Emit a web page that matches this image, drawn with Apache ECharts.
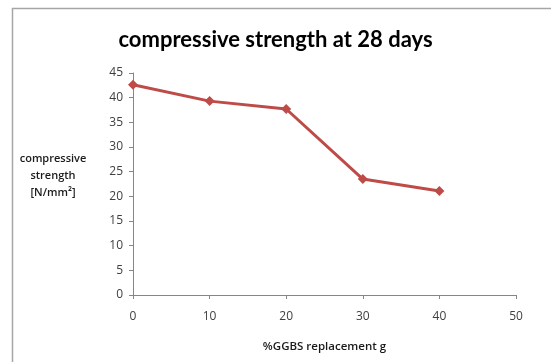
<!DOCTYPE html>
<html>
<head>
<meta charset="utf-8">
<script src="https://cdn.jsdelivr.net/npm/echarts@6/dist/echarts.min.js"></script>
<style>
html,body{margin:0;padding:0;background:#fff;}
#c{width:551px;height:362px;}
</style>
</head>
<body>
<div id="c"></div>
<script>
var xValues = [0, 10, 20, 30, 40];
var strength = [42.6, 39.3, 37.7, 23.5, 21.1];
var titleText = 'compressive strength at 28 days';
var yAxisTitle = 'compressive\nstrength\n[N/mm\u00b2]';
var xAxisTitle = '%GGBS replacement g';

var chart = echarts.init(document.getElementById('c'), null, {renderer: 'canvas'});
var data = xValues.map(function (x, i) { return [x, strength[i]]; });
chart.setOption({
  animation: false,
  backgroundColor: '#ffffff',
  title: {
    text: titleText,
    left: 'center',
    top: 24,
    textStyle: {fontFamily: 'Lato', fontWeight: 'bold', fontSize: 22, color: '#000'}
  },
  graphic: [
    {type: 'rect', shape: {x: 12.5, y: 8.5, width: 560, height: 380},
     style: {fill: 'none', stroke: '#a6a6a6', lineWidth: 1.5}, z: -1},
    {type: 'text', x: 53, y: 150,
     style: {text: yAxisTitle, font: '600 11px "Open Sans"', fill: '#1a1a1a', align: 'center', verticalAlign: 'top', lineHeight: 17}}
  ],
  grid: {left: 133, right: 35, top: 73, bottom: 67},
  xAxis: {
    type: 'value', min: 0, max: 50, interval: 10,
    name: xAxisTitle, nameLocation: 'middle', nameGap: 46,
    nameTextStyle: {fontFamily: 'Open Sans', fontWeight: 600, fontSize: 11.5, color: '#1a1a1a'},
    axisLine: {lineStyle: {color: '#868686'}},
    axisTick: {show: true, length: 4, lineStyle: {color: '#868686'}},
    axisLabel: {fontFamily: 'Open Sans', fontSize: 12, color: '#404040', margin: 16},
    splitLine: {show: false}
  },
  yAxis: {
    type: 'value', min: 0, max: 45, interval: 5,
    axisLine: {show: true, lineStyle: {color: '#868686'}},
    axisTick: {show: true, length: 4, lineStyle: {color: '#868686'}},
    axisLabel: {fontFamily: 'Open Sans', fontSize: 12, color: '#404040', margin: 10},
    splitLine: {show: false}
  },
  series: [{
    type: 'line', data: data,
    symbol: 'diamond', symbolSize: 10,
    lineStyle: {color: '#be4b48', width: 3},
    itemStyle: {color: '#be4b48'}
  }]
});
</script>
</body>
</html>
